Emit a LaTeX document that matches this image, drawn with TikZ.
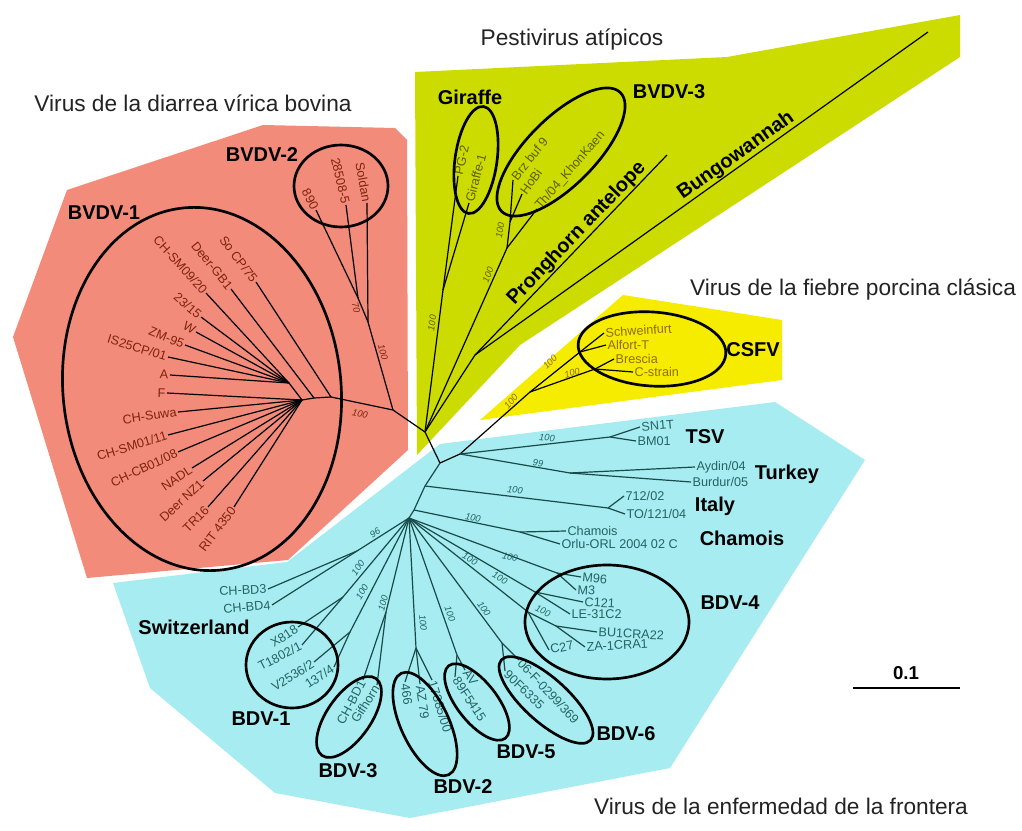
\documentclass[tikz,border=0pt]{standalone}
\usepackage{fontspec}
\setmainfont{Liberation Sans}
\definecolor{redfill}{RGB}{243,139,123}
\definecolor{greenfill}{RGB}{205,220,0}
\definecolor{yellowfill}{RGB}{246,236,0}
\definecolor{bluefill}{RGB}{166,236,240}
\definecolor{redtxt}{RGB}{125,35,15}
\definecolor{greentxt}{RGB}{95,95,0}
\definecolor{yellowtxt}{RGB}{140,110,20}
\definecolor{bluetxt}{RGB}{35,100,100}
\definecolor{bluebr}{RGB}{25,75,75}
\definecolor{hdrgray}{RGB}{35,35,35}
\newcommand{\lfE}[5]{\coordinate (#1) at (#2); \draw[br] (#5) -- (#1); \node[lbl,anchor=east,rotate=#3] (#1t) at (#1) {#4};}
\newcommand{\lfW}[5]{\coordinate (#1) at (#2); \draw[br] (#5) -- (#1); \node[lbl,anchor=west,rotate=#3] (#1t) at (#1) {#4};}
\begin{document}
\begin{tikzpicture}[x=0.75pt,y=-0.75pt,
  br/.style={line width=0.9pt,draw=black},
  lbl/.style={font=\fontsize{9.5}{11}\selectfont, inner sep=1pt},
  bs/.style={font=\fontsize{7}{8}\selectfont\itshape, inner sep=0.5pt},
  grp/.style={font=\fontsize{15}{18}\selectfont\bfseries, text=black},
  hdr/.style={font=\fontsize{17}{20}\selectfont, text=hdrgray},
  ell/.style={line width=2pt, draw=black}]
\useasboundingbox (0,0) rectangle (1022,831);
\fill[white] (0,0) rectangle (1022,831);

% background regions
\fill[redfill] (67,190) -- (263,125) -- (395,128) -- (407,140) -- (408,450) -- (288,560) -- (87,578) -- (13,337) -- cycle;
\fill[greenfill] (415,72) -- (727,57) -- (960,15) -- (960,57) -- (520,345) -- (417,455) -- cycle;
\fill[yellowfill] (480,420) -- (623,295) -- (782,320) -- (782,380) -- cycle;
\fill[bluefill] (113,583) -- (287,562) -- (440,444) -- (775,402) -- (865,460) -- (670,768) -- (410,818) -- (275,793) -- (150,688) -- cycle;

% headers
\node[hdr] (h1) at (193,103) {Virus de la diarrea vírica bovina};
\node[hdr] (h2) at (572,40) {Pestivirus atípicos};
\node[hdr] (h3) at (853,290) {Virus de la fiebre porcina clásica};
\node[hdr] (h4) at (781,806) {Virus de la enfermedad de la frontera};

% ---------- BVDV (red) ----------
\coordinate (G0) at (425,432);
\coordinate (R1) at (393,410);
\coordinate (R2) at (331,397);
\coordinate (Hd) at (314,398);
\coordinate (H1) at (302,400);
\coordinate (H2) at (289,383);
\coordinate (Rb2) at (368,322);
\coordinate (Rb3) at (358,298);
\begin{scope}[lbl/.append style={text=redtxt}]
\draw[br] (G0) -- (R1) -- (R2) -- (Hd) -- (H1) -- (H2);
\draw[br] (R1) -- (Rb2) -- (Rb3);
\lfE{so}{256,282}{-53}{So CP/75}{R2}
\lfE{dg}{231,289}{-51}{Deer-GB1}{Hd}
\lfE{c09}{206,293}{-48}{CH-SM09/20}{H2}
\lfE{t23}{201,317}{-41}{23/15}{H2}
\lfE{lw}{196,332}{-30}{W}{H2}
\lfE{zm}{185,345}{-22}{ZM-95}{H2}
\lfE{is}{168,357}{-17}{IS25CP/01}{H2}
\lfE{la}{170,375}{-3}{A}{H2}
\lfE{lf}{167,393}{-1}{F}{H1}
\lfE{suwa}{178,412}{8}{CH-Suwa}{H1}
\lfE{sm01}{168,435}{17}{CH-SM01/11}{H1}
\lfE{cb01}{178,452}{25}{CH-CB01/08}{H1}
\lfE{nadl}{192,468}{34}{NADL}{H1}
\lfE{dnz}{203,481}{43}{Deer NZ1}{H1}
\lfE{tr}{208,507}{45}{TR16}{H1}
\lfE{rit}{234,507}{53}{RIT 4350}{H1}
\lfE{sold}{367,203}{-80}{Soldan}{Rb2}
\lfE{p28}{346,205}{-77}{28508-5}{Rb3}
\lfE{p890}{316,210}{-62}{890}{Rb3}
\end{scope}
\node[bs,text=redtxt,rotate=-12] (rn1) at (360,414) {100};
\node[bs,text=redtxt,rotate=-75] (rn2) at (383,352) {100};
\node[bs,text=redtxt,rotate=-75] (rn3) at (356,308) {70};

% ---------- Atypical (green) ----------
\coordinate (Gn) at (443,290);
\coordinate (B3n) at (507,248);
\coordinate (B3m) at (510,222);
\coordinate (PB) at (475,355);
\coordinate (PHt) at (667,155);
\coordinate (BGt) at (928,32);
\begin{scope}[lbl/.append style={text=greentxt}]
\draw[br] (G0) -- (Gn);
\draw[br] (G0) -- (B3n) -- (B3m);
\draw[br] (G0) -- (PB);
\lfW{pg2}{458,176}{77}{PG-2}{Gn}
\lfW{gir}{469,203}{75}{Giraffe-1}{Gn}
\lfW{brz}{513,180}{52}{Brz buf 9}{B3m}
\lfW{hobi}{522,194}{54}{HoBi}{B3m}
\lfW{th04}{537,209}{49}{Th/04\_KhonKaen}{B3n}
\end{scope}
\draw[br] (PB) -- (PHt) node[pos=0.57, sloped, above, grp, inner sep=0.5pt] (phl) {Pronghorn antelope};
\draw[br] (PB) -- (BGt) node[pos=0.59, sloped, above, grp, inner sep=0.5pt] (bgl) {Bungowannah};
\node[bs,text=greentxt,rotate=82] (gn1) at (432,323) {100};
\node[bs,text=greentxt,rotate=68] (gn2) at (488,275) {100};
\node[bs,text=greentxt,rotate=80] (gn3) at (500,230) {100};

% ---------- blue trunk ----------
\coordinate (T0) at (440,463);
\coordinate (T1) at (460,454);
\coordinate (Ti) at (425,486);
\coordinate (Tc) at (414,510);
\coordinate (Hub) at (409,518);
\draw[br] (G0) -- (T0) -- (T1);

% ---------- CSFV (yellow) ----------
\coordinate (Cs0) at (530,392);
\coordinate (Cs1) at (580,352);
\coordinate (Cs2) at (595,369);
\begin{scope}[lbl/.append style={text=yellowtxt}]
\draw[br] (T1) -- (Cs0) -- (Cs1);
\draw[br] (Cs0) -- (Cs2);
\lfW{schw}{604,333}{4}{Schweinfurt}{Cs1}
\lfW{alf}{606,345}{0}{Alfort-T}{Cs1}
\lfW{bres}{614,359}{0}{Brescia}{Cs2}
\lfW{cstr}{633,372}{0}{C-strain}{Cs2}
\end{scope}
\node[bs,text=yellowtxt,rotate=50] (yn1) at (511,401) {100};
\node[bs,text=yellowtxt,rotate=45] (yn2) at (550,362) {100};
\node[bs,text=yellowtxt,rotate=15] (yn3) at (572,373) {100};

% ---------- BDV (blue) ----------
\coordinate (Ntsv) at (610,437);
\coordinate (Ntk) at (570,473);
\coordinate (Nit) at (608,508);
\coordinate (Nch) at (520,532);
\coordinate (Nsw) at (357,551);
\coordinate (N1a) at (343,597);
\coordinate (N1b) at (350,632);
\coordinate (N3) at (386,612);
\coordinate (N2) at (416,648);
\coordinate (N5) at (457,655);
\coordinate (N6) at (502,643);
\coordinate (N4a) at (557,573);
\coordinate (N4b) at (535,592);
\coordinate (N4d) at (528,612);
\coordinate (N4c) at (556,626);
\begin{scope}[lbl/.append style={text=bluetxt}, br/.append style={draw=bluebr}]
\draw[br] (T0) -- (Ti) -- (Tc) -- (Hub);
\draw[br] (T1) -- (Ntsv);
\draw[br] (T1) -- (Ntk);
\draw[br] (Ti) -- (Nit);
\draw[br] (Tc) -- (Nch);
\draw[br] (Hub) -- (Nsw);
\draw[br] (Hub) -- (N1a);
\draw[br] (Hub) -- (N1b);
\draw[br] (Hub) -- (N3);
\draw[br] (Hub) -- (N2);
\draw[br] (Hub) -- (N5);
\draw[br] (Hub) -- (N6);
\draw[br] (Hub) -- (N4a);
\draw[br] (Hub) -- (N4b);
\draw[br] (Hub) -- (N4d) -- (N4c);
\lfW{sn1t}{640,427}{5}{SN1T}{Ntsv}
\lfW{bm01}{636,441}{0}{BM01}{Ntsv}
\lfW{ayd}{695,467}{0}{Aydin/04}{Ntk}
\lfW{bur}{691,482}{0}{Burdur/05}{Ntk}
\lfW{i712}{624,496}{0}{712/02}{Nit}
\lfW{ito}{625,514}{0}{TO/121/04}{Nit}
\lfW{cham}{566,531}{0}{Chamois}{Nch}
\lfW{orlu}{560,544}{0}{Orlu-ORL 2004 02 C}{Nch}
\lfE{bd3}{268,589}{3}{CH-BD3}{Nsw}
\lfE{bd4}{272,605}{5}{CH-BD4}{Nsw}
\lfE{x818}{298,627}{33}{X818}{N1a}
\lfE{t1802}{302,645}{27}{T1802/1}{N1a}
\lfE{v2536}{314,662}{32}{V2536/2}{N1b}
\lfE{b137}{334,667}{33}{137/4}{N1b}
\lfE{chbd1}{363,680}{62}{CH-BD1}{N3}
\lfE{gif}{377,685}{58}{Gifhorn}{N3}
\lfW{b466}{405,682}{-82}{466}{N2}
\lfW{az79}{420,684}{-82}{AZ 79}{N2}
\lfW{b173}{432,680}{-73}{17385/00}{N2}
\lfW{av}{465,670}{-55}{AV}{N5}
\lfW{b89f}{455,677}{-57}{89F5415}{N5}
\lfW{b06f}{519,660}{-47}{06-F-0299/369}{N6}
\lfW{b90f}{505,671}{-44}{90F6335}{N6}
\lfW{m96}{581,577}{-5}{M96}{N4a}
\lfW{m3}{576,590}{-3}{M3}{N4a}
\lfW{c121}{583,602}{-3}{C121}{N4b}
\lfW{le31}{570,614}{0}{LE-31C2}{N4b}
\lfW{bu1}{597,632}{-3}{BU1CRA22}{N4c}
\lfW{za1}{585,647}{3}{ZA-1CRA1}{N4c}
\lfW{c27}{549,650}{12}{C27}{N4d}
\end{scope}
\begin{scope}[bs/.append style={text=bluetxt}]
\node[bs,rotate=-5] (bn1) at (547,438) {100};
\node[bs,rotate=-8] (bn2) at (538,463) {99};
\node[bs,rotate=-8] (bn3) at (515,490) {100};
\node[bs,rotate=-10] (bn4) at (473,518) {100};
\node[bs,rotate=-15] (bn5) at (510,557) {100};
\node[bs,rotate=-30] (bn6) at (470,559) {100};
\node[bs,rotate=-30] (bn7) at (500,578) {100};
\node[bs,rotate=-25] (bn8) at (543,611) {100};
\node[bs,rotate=-55] (bn9) at (484,609) {100};
\node[bs,rotate=-70] (bn10) at (450,614) {100};
\node[bs,rotate=-85] (bn11) at (423,623) {100};
\node[bs,rotate=75] (bn12) at (383,603) {100};
\node[bs,rotate=60] (bn13) at (362,592) {100};
\node[bs,rotate=55] (bn14) at (358,568) {100};
\node[bs,rotate=35] (bn15) at (375,533) {96};
\end{scope}

% ---------- ellipses ----------
\draw[ell, rotate around={6:(202,389)}] (202,389) ellipse (139 and 182);
\draw[ell] (341,186) ellipse (47 and 41);
\draw[ell, rotate around={-8:(476,160)}] (476,160) ellipse (21 and 54);
\draw[ell, rotate around={45:(561,152)}] (561,152) ellipse (84 and 34);
\draw[ell, rotate around={-4:(652,349)}] (652,349) ellipse (74 and 37);
\draw[ell] (607,622) ellipse (82 and 57);
\draw[ell] (292,665) ellipse (46 and 43);
\draw[ell, rotate around={55:(349,717)}] (349,717) ellipse (47 and 22);
\draw[ell, rotate around={-65:(425,724)}] (425,724) ellipse (56 and 24);
\draw[ell, rotate around={-52:(477,702)}] (477,702) ellipse (46 and 20);
\draw[ell, rotate around={-42:(546,700)}] (546,700) ellipse (60 and 22);

% ---------- group labels ----------
\node[grp] (gBV1) at (104,213) {BVDV-1};
\node[grp] (gBV2) at (262,155) {BVDV-2};
\node[grp] (gGir) at (470,97) {Giraffe};
\node[grp] (gBV3) at (669,92) {BVDV-3};
\node[grp] (gCS) at (753,350) {CSFV};
\node[grp] (gTSV) at (705,437) {TSV};
\node[grp] (gTur) at (787,474) {Turkey};
\node[grp] (gIt) at (715,506) {Italy};
\node[grp] (gCh) at (742,538) {Chamois};
\node[grp] (gB4) at (730,603) {BDV-4};
\node[grp] (gSw) at (194,627) {Switzerland};
\node[grp] (gB1) at (261,719) {BDV-1};
\node[grp] (gB3) at (348,771) {BDV-3};
\node[grp] (gB2) at (463,787) {BDV-2};
\node[grp] (gB5) at (526,752) {BDV-5};
\node[grp] (gB6) at (626,734) {BDV-6};

% ---------- scale bar ----------
\coordinate (sb1) at (853,688);
\coordinate (sb2) at (960,688);
\draw[line width=1.6pt] (sb1) -- (sb2);
\node[font=\fontsize{14}{16}\selectfont\bfseries] (sbl) at (906,673) {0.1};
\end{tikzpicture}
\end{document}
